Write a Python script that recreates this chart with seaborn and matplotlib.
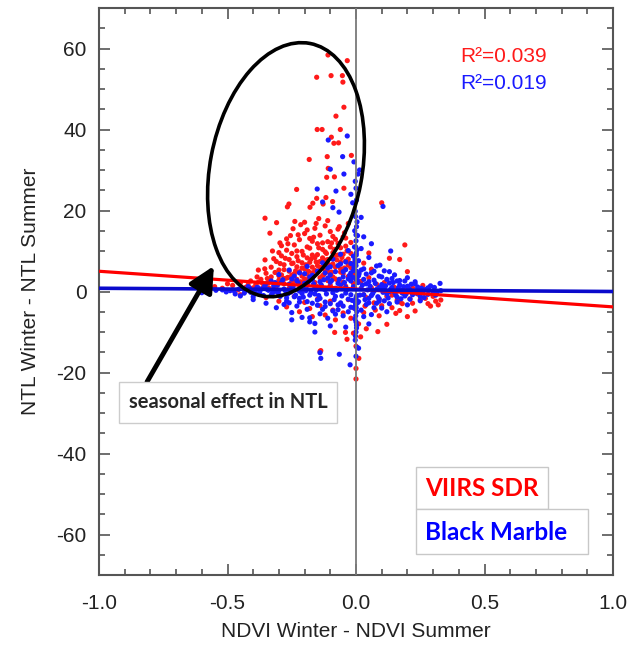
import matplotlib
matplotlib.use("Agg")
import matplotlib.pyplot as plt
import seaborn as sns
import pandas as pd
from matplotlib.patches import Ellipse, Rectangle
from matplotlib.ticker import MultipleLocator

# ---------------- data ----------------
red_high = [(-0.109, 58.4), (-0.034, 57.0), (-0.153, 52.9), (-0.097, 53.3), (-0.053, 53.3),
            (-0.051, 51.7), (-0.047, 45.5), (-0.078, 43.3), (-0.151, 40.0), (-0.132, 40.0),
            (-0.061, 40.0), (-0.096, 38.1), (-0.086, 36.6), (-0.068, 36.7), (-0.018, 33.6),
            (-0.182, 32.6), (-0.112, 33.3), (-0.108, 30.4), (-0.084, 28.3), (-0.114, 28.2),
            (-0.047, 25.5), (-0.231, 25.2), (-0.153, 23.0), (-0.117, 23.2), (-0.168, 21.8),
            (-0.091, 22.2), (-0.261, 21.6), (-0.267, 20.9), (-0.179, 20.8), (-0.128, 21.6),
            (-0.354, 18.1), (-0.309, 17.0), (-0.238, 17.3), (-0.200, 17.1), (-0.155, 16.8),
            (-0.335, 14.4), (-0.296, 12.0), (-0.380, 5.3), (-0.354, 7.8), (0.100, 21.9)]

red_core = [(-0.62, 1.8), (-0.55, 1.2), (-0.52, 0.8), (-0.48, 1.5), (-0.45, 2.1), (-0.43, 1.0),
            (-0.41, 2.6), (-0.39, 1.7), (-0.37, 3.0), (-0.36, 1.1), (-0.34, 2.2), (-0.33, 3.6),
            (-0.31, 1.4), (-0.30, 2.8), (-0.29, 4.1), (-0.28, 1.9), (-0.27, 3.3), (-0.26, 5.0),
            (-0.25, 2.4), (-0.24, 4.4), (-0.23, 6.1), (-0.22, 1.6), (-0.21, 3.8), (-0.20, 5.6),
            (-0.19, 2.9), (-0.18, 7.2), (-0.17, 4.6), (-0.16, 2.2), (-0.15, 6.4), (-0.14, 3.4),
            (-0.13, 8.3), (-0.12, 5.2), (-0.11, 2.7), (-0.10, 4.0), (-0.09, 6.8), (-0.08, 3.1),
            (-0.07, 9.0), (-0.06, 4.8), (-0.05, 2.3), (-0.04, 7.5), (-0.03, 3.7), (-0.02, 5.9),
            (-0.01, 2.0),
            (-0.33, 6.0), (-0.31, 7.4), (-0.30, 5.3), (-0.29, 8.8), (-0.28, 6.6), (-0.27, 10.2),
            (-0.26, 7.9), (-0.25, 9.4), (-0.24, 11.5), (-0.23, 8.6), (-0.22, 12.8), (-0.21, 9.9),
            (-0.20, 14.3), (-0.19, 11.0), (-0.18, 13.1), (-0.17, 9.0), (-0.16, 15.6), (-0.15, 11.8),
            (-0.14, 13.9), (-0.13, 10.4), (-0.12, 16.2), (-0.11, 12.3), (-0.10, 14.8), (-0.09, 9.6),
            (-0.08, 12.9), (-0.07, 15.4), (-0.06, 10.8), (-0.05, 13.5), (-0.04, 11.2), (-0.03, 16.8),
            (-0.02, 9.4),
            (-0.40, 0.9), (-0.38, 2.3), (-0.35, 4.5), (-0.32, 1.0), (-0.30, 3.9), (-0.28, 5.4),
            (-0.26, 0.8), (-0.25, 6.9), (-0.23, 3.0), (-0.22, 4.9), (-0.21, 7.1), (-0.20, 1.8),
            (-0.19, 4.3), (-0.18, 3.3), (-0.17, 6.0), (-0.16, 8.4), (-0.15, 1.2), (-0.14, 5.5),
            (-0.13, 3.9), (-0.12, 7.7), (-0.11, 4.9), (-0.10, 1.5), (-0.09, 3.6), (-0.08, 6.0),
            (-0.07, 2.6), (-0.06, 7.3), (-0.05, 4.4), (-0.04, 1.3), (-0.03, 6.5), (-0.02, 3.0),
            (0.00, 4.2),
            (-0.32, 8.1), (-0.29, 11.3), (-0.27, 13.0), (-0.25, 4.0), (-0.23, 10.0), (-0.21, 5.8),
            (-0.19, 8.3), (-0.18, 10.7), (-0.17, 12.4), (-0.16, 5.2), (-0.15, 9.1), (-0.14, 7.4),
            (-0.13, 12.0), (-0.12, 9.8), (-0.11, 7.9), (-0.10, 11.0), (-0.09, 13.6), (-0.08, 8.9),
            (-0.07, 11.9), (-0.06, 5.6), (-0.05, 9.2), (-0.04, 13.2), (-0.03, 8.0), (-0.02, 12.1),
            (-0.01, 6.9), (-0.20, 3.1), (-0.24, 2.5), (-0.28, 3.2), (-0.34, 0.9), (-0.42, 1.6),
            (-0.46, 0.4), (-0.50, 1.9), (-0.57, 0.6), (-0.215, 16.5), (-0.145, 18.0), (-0.19, 15.2),
            (-0.255, 13.8), (-0.30, 9.6), (-0.11, 17.5), (-0.065, 16.0), (0.03, 7.0), (0.05, 9.5),
            (-0.315, 4.7), (-0.305, 1.9), (-0.295, 6.9), (-0.285, 2.6), (-0.275, 8.2), (-0.265, 3.5),
            (-0.245, 7.0), (-0.235, 5.1), (-0.225, 7.6), (-0.215, 2.4), (-0.205, 9.0), (-0.195, 6.6),
            (-0.185, 5.0), (-0.175, 8.0), (-0.165, 3.8), (-0.155, 7.3), (-0.145, 10.8), (-0.135, 6.0),
            (-0.125, 4.2), (-0.115, 9.4), (-0.105, 6.6), (-0.095, 4.8), (-0.085, 10.4), (-0.075, 7.8),
            (-0.055, 8.4), (-0.045, 5.8), (-0.035, 10.0), (-0.025, 7.0), (-0.015, 4.4), (-0.265, 11.8),
            (-0.225, 14.0), (-0.165, 13.4), (-0.095, 12.0), (-0.045, 14.5), (-0.345, 3.2),
            (-0.365, 2.1), (-0.385, 3.6), (-0.355, 5.6), (-0.325, 10.0), (-0.245, 15.5)]

red_right = [(0.02, 2.5), (0.04, -1.5), (0.05, 3.4), (0.07, -2.8), (0.08, 1.8), (0.10, -3.5),
             (0.11, 2.2), (0.12, -1.2), (0.13, 8.2), (0.14, -4.0), (0.15, 1.0), (0.16, -2.2),
             (0.17, 7.9), (0.18, -3.0), (0.19, 11.5), (0.20, 4.9), (0.21, -1.8), (0.22, 0.9),
             (0.23, -4.8), (0.25, -2.0), (0.26, 1.5), (0.28, -3.0), (0.30, -1.2), (0.32, -3.3),
             (0.33, -2.1), (0.06, 5.5), (0.09, -6.0), (0.12, -8.1), (0.085, -9.9), (0.17, -4.7),
             (0.03, -0.8), (0.06, 0.9), (0.09, -1.9), (0.11, 0.4), (0.14, -0.9), (0.17, -2.6),
             (0.19, 0.6), (0.22, -2.9), (0.24, -0.6), (0.27, -1.7), (0.29, -3.6), (0.31, -2.4),
             (0.035, -3.6), (0.075, -4.6), (0.155, -5.4), (0.20, -6.2)]

red_low = [(-0.45, -0.8), (-0.35, -1.5), (-0.30, -2.4), (-0.27, -3.8), (-0.24, -1.2), (-0.22, -5.0),
           (-0.20, -2.7), (-0.18, -4.2), (-0.17, -6.2), (-0.15, -1.9), (-0.14, -3.5), (-0.12, -5.8),
           (-0.10, -2.4), (-0.09, -4.6), (-0.08, -7.0), (-0.06, -3.1), (-0.05, -5.3), (-0.03, -2.0),
           (-0.02, -6.6), (-0.01, -4.0), (0.01, -8.0), (0.03, -5.2), (-0.137, -14.6), (-0.14, -14.8),
           (-0.083, -10.1), (-0.041, -10.1), (-0.01, -10.3), (-0.035, -11.8), (0.018, -11.2),
           (0.011, -16.5), (0.0, -19.0), (0.0, -21.6), (0.0, -13.5), (0.04, -9.2)]

blue_band = [(-0.60, -0.3), (-0.52, 0.4), (-0.47, -0.6), (-0.44, 0.7), (-0.41, -0.2), (-0.38, 0.9),
             (-0.36, -1.0), (-0.34, 0.3), (-0.32, 1.4), (-0.30, -0.7), (-0.28, 0.6), (-0.26, 1.8),
             (-0.24, -1.3), (-0.22, 0.1), (-0.20, 2.0), (-0.18, -0.9), (-0.16, 1.1), (-0.14, -1.7),
             (-0.12, 0.4), (-0.10, 2.3), (-0.08, -1.2), (-0.06, 1.6), (-0.04, -0.4), (-0.02, 2.6),
             (0.00, -1.5), (0.02, 0.8), (0.04, 1.9), (0.06, -1.0), (0.08, 0.5), (0.10, 1.7),
             (0.12, -0.6), (0.14, 1.0), (0.16, -1.4), (0.18, 0.3), (0.20, 1.3), (0.22, -0.8),
             (0.24, 0.6), (0.26, -0.3), (0.28, 0.9), (0.30, -0.5), (0.33, 0.2),
             (-0.49, 0.2), (-0.45, -1.1), (-0.42, 1.2), (-0.39, -0.4), (-0.37, 0.5), (-0.35, 1.9),
             (-0.33, -0.9), (-0.31, 0.0), (-0.29, 2.2), (-0.27, -1.6), (-0.25, 0.9), (-0.23, 2.7),
             (-0.21, -0.5), (-0.19, 1.5), (-0.17, 3.0), (-0.15, -2.1), (-0.13, 0.7), (-0.11, 3.3),
             (-0.09, -0.3), (-0.07, 2.0), (-0.05, 3.6), (-0.03, -1.9), (-0.01, 1.2), (0.01, 3.9),
             (0.03, -0.8), (0.05, 2.4), (0.07, 0.1), (0.09, -1.8), (0.11, 0.9), (0.13, 2.1),
             (0.15, -0.2), (0.17, 1.6), (0.19, -1.1), (0.21, 0.4), (0.23, 1.9), (0.25, -1.2),
             (0.27, 0.5), (0.29, 1.4), (0.31, -0.9),
             (-0.43, 0.1), (-0.40, -1.3), (-0.36, 0.8), (-0.33, 2.6), (-0.30, 0.3), (-0.27, -2.4),
             (-0.25, 3.1), (-0.22, -1.7), (-0.20, 0.5), (-0.18, 3.6), (-0.16, -0.6), (-0.14, 2.4),
             (-0.12, -2.6), (-0.10, 4.1), (-0.08, 0.8), (-0.06, -2.8), (-0.05, 4.9), (-0.04, 1.0),
             (-0.03, 3.1), (-0.02, -0.8), (-0.01, 5.2), (0.01, -2.5), (0.03, 3.0), (0.05, -1.7),
             (0.07, 2.8), (0.09, 1.0), (0.11, -2.3), (0.13, 0.0), (0.16, 2.6), (0.18, -0.4),
             (0.21, -1.9), (0.24, 1.1), (0.28, -0.7),
             (-0.255, -0.2), (-0.245, 1.2), (-0.235, -0.9), (-0.225, 2.1), (-0.215, 0.6),
             (-0.205, -1.4), (-0.195, 0.2), (-0.185, 2.4), (-0.175, -0.3), (-0.165, 1.9),
             (-0.155, 0.4), (-0.145, -1.0), (-0.135, 1.6), (-0.125, 2.9), (-0.115, -0.6),
             (-0.105, 0.9), (-0.095, 2.7), (-0.085, -2.0), (-0.075, 0.3), (-0.065, 3.0),
             (-0.055, -1.1), (-0.045, 2.2), (-0.035, 0.5), (-0.025, 4.0), (-0.015, -2.2),
             (-0.005, 0.8), (0.005, 2.9), (0.015, -0.9), (0.025, 1.6), (0.035, -2.0), (0.045, 0.4),
             (0.055, 1.3), (0.065, -0.5), (0.075, 2.0), (0.085, -1.3), (0.095, 0.7), (0.105, -0.2),
             (0.115, 1.4), (0.125, -1.6), (0.135, 0.6), (0.145, 2.2), (0.155, -0.9), (0.165, 0.9),
             (0.175, -1.8), (0.185, 1.2), (0.195, -0.6), (0.205, 0.7), (0.215, 1.8), (0.235, -0.4),
             (0.255, 0.8), (0.265, -1.5), (0.285, 0.3), (0.305, 1.0), (0.315, -0.2),
             (-0.305, 1.6), (-0.295, -1.2), (-0.285, 2.9), (-0.275, 0.2), (-0.265, -0.6),
             (-0.345, 0.5), (-0.355, 1.4), (-0.325, -0.4), (-0.315, 2.2), (-0.375, -0.3),
             (-0.385, 1.0), (-0.395, 0.3), (-0.415, 0.9), (-0.435, -0.4), (-0.455, 0.6),
             (-0.475, 0.2), (-0.505, -0.1), (-0.545, 0.3)]

blue_upper = [(-0.30, 4.2), (-0.26, 5.3), (-0.22, 4.6), (-0.19, 6.2), (-0.15, 5.0), (-0.13, 7.1),
              (-0.11, 5.8), (-0.09, 8.0), (-0.07, 6.4), (-0.06, 9.2), (-0.04, 7.3), (-0.03, 10.1),
              (-0.02, 6.9), (-0.01, 8.7), (0.01, 7.6), (0.02, 10.6), (0.03, 5.6), (0.05, 8.4),
              (0.06, 4.6), (0.08, 6.3), (0.09, 3.8), (0.11, 5.1), (0.13, 4.9), (0.14, 3.2),
              (0.135, 10.0), (0.093, 6.5), (0.17, 2.7), (0.20, 3.4), (0.23, 2.4), (0.327, 2.0),
              (0.105, 21.0), (0.03, 13.5), (0.06, 11.8),
              (-0.24, 3.8), (-0.20, 4.4), (-0.17, 4.0), (-0.12, 4.6), (-0.10, 6.1), (-0.08, 4.9),
              (-0.06, 6.8), (-0.04, 5.4), (-0.02, 4.6), (0.00, 6.4), (0.02, 5.3), (0.04, 4.3),
              (0.07, 5.0), (0.10, 3.6), (0.12, 3.0), (0.15, 4.1), (0.19, 2.6),
              (-0.108, 37.4), (-0.034, 38.4), (-0.052, 33.3), (-0.10, 30.2), (-0.047, 29.0),
              (0.014, 30.0), (-0.003, 27.2), (-0.151, 25.3), (-0.078, 24.8), (-0.13, 22.1),
              (-0.09, 20.7), (-0.066, 19.6), (-0.013, 21.9), (0.02, 18.3), (-0.02, 24.0),
              (0.008, 29.0), (-0.008, 32.0)]

blue_spike = [(0.000, 12.5), (-0.005, 15.0), (0.004, 17.2), (-0.003, 19.8), (0.002, 22.6),
              (0.0, 25.5), (-0.006, 11.0), (0.006, 13.8), (0.001, 9.5), (-0.002, -3.5),
              (0.003, -5.0), (-0.004, -6.8), (0.002, -8.3), (0.0, -10.0), (-0.003, -12.0),
              (0.004, -13.8), (0.0, -16.0), (-0.005, -4.2), (0.006, -2.8), (0.01, -14.0),
              (-0.023, -18.1), (-0.065, -15.5), (-0.137, -16.5), (-0.14, -15.1), (-0.012, 3.5),
              (0.012, 4.4), (-0.008, 6.0), (0.008, 2.2),
              (0.0, 3.0), (0.002, 5.0), (-0.002, 7.0), (0.001, 9.0), (-0.001, 11.0), (0.0, 14.0),
              (0.002, 16.0), (-0.002, 18.5), (0.0, -2.0), (0.001, -4.0), (-0.001, -6.0),
              (0.0, -7.5), (0.002, -9.0), (-0.002, -11.0), (-0.004, 7.8), (0.004, 10.3),
              (0.003, -1.0), (-0.003, -2.7)]

blue_low = [(-0.40, -2.0), (-0.35, -2.9), (-0.31, -4.0), (-0.28, -3.2), (-0.25, -5.2), (-0.23, -3.6),
            (-0.21, -6.4), (-0.19, -4.4), (-0.17, -2.9), (-0.16, -7.9), (-0.14, -5.5), (-0.12, -3.7),
            (-0.11, -6.6), (-0.09, -4.8), (-0.07, -3.3), (-0.07, -4.5), (-0.05, -6.0), (-0.04, -8.8),
            (-0.02, -3.9), (0.02, -4.6), (0.04, -3.2), (0.06, -5.7), (0.08, -2.9), (0.10, -4.1),
            (0.13, -3.0), (0.16, -2.6), (0.20, -3.3), (0.25, -2.3), (-0.18, -6.5), (-0.18, -7.5),
            (-0.22, -2.6), (-0.15, -3.4), (-0.10, -3.0), (-0.05, -3.6), (0.00, -3.1), (0.05, -2.8),
            (0.09, -2.4), (-0.26, -2.8), (-0.19, -2.5), (-0.13, -4.4), (-0.08, -5.6), (-0.03, -5.0),
            (0.03, -6.2), (0.07, -4.0), (0.12, -5.0), (-0.16, -10.0), (-0.10, -8.5), (0.05, -8.0),
            (-0.25, -7.0)]

series_names = ["VIIRS SDR", "Black Marble"]
series_colors = ["#ff1a1a", "#1a1aff"]
fit_x = [-1.0, 1.0]
red_fit_y = [5.0, -3.8]
blue_fit_y = [0.8, 0.0]
r2_texts = ["R\u00b2=0.039", "R\u00b2=0.019"]
x_ticks = [-1.0, -0.5, 0.0, 0.5, 1.0]
y_ticks = [-60, -40, -20, 0, 20, 40, 60]

# ---------------- build frames ----------------
red_all = red_high + red_core + red_right + red_low
blue_all = blue_band + blue_upper + blue_spike + blue_low
df = pd.DataFrame(
    [(x, y, series_names[0]) for x, y in red_all] +
    [(x, y, series_names[1]) for x, y in blue_all],
    columns=["x", "y", "series"])
fit_df = pd.DataFrame({"x": fit_x * 2, "y": red_fit_y + blue_fit_y,
                       "series": [series_names[0]] * 2 + [series_names[1]] * 2})

# ---------------- style ----------------
sns.set_style("ticks")
plt.rcParams["font.family"] = ["Liberation Sans", "DejaVu Sans"]
plt.rcParams["axes.unicode_minus"] = False

W, H = 641, 646
fig = plt.figure(figsize=(W / 100, H / 100), dpi=100)
ax = fig.add_axes([99 / W, 71 / H, 514 / W, 567 / H])

pal = dict(zip(series_names, series_colors))
sns.scatterplot(data=df, x="x", y="y", hue="series", palette=pal, s=14,
                linewidth=0, legend=False, ax=ax, zorder=3)
ax.axvline(0, color="#7a7a7a", lw=1.3, zorder=4)
sns.lineplot(data=fit_df[fit_df.series == series_names[0]], x="x", y="y",
             color="#ff0000", lw=2.3, ax=ax, zorder=5, legend=False)
sns.lineplot(data=fit_df[fit_df.series == series_names[1]], x="x", y="y",
             color="#0a0acc", lw=2.6, ax=ax, zorder=5, legend=False)

ax.set_xlim(-1, 1)
ax.set_ylim(-70, 70)
ax.set_xticks(x_ticks)
ax.set_yticks(y_ticks)
ax.set_xticklabels([f"{v:.1f}" for v in x_ticks])
ax.set_yticklabels([f"{v:d}" for v in y_ticks])
ax.xaxis.set_minor_locator(MultipleLocator(0.1))
ax.yaxis.set_minor_locator(MultipleLocator(5))
ax.tick_params(which="both", direction="in", top=True, right=True, color="#555555", width=1.2)
ax.tick_params(which="major", length=8)
ax.tick_params(which="minor", length=4)
ax.tick_params(axis="x", which="major", pad=14, labelsize=15, labelcolor="#222222")
ax.tick_params(axis="y", which="major", pad=9, labelsize=15, labelcolor="#222222")
for sp in ax.spines.values():
    sp.set_color("#555555")
    sp.set_linewidth(1.5)
ax.set_xlabel("NDVI Winter - NDVI Summer", fontsize=15, color="#222222", labelpad=6)
ax.set_ylabel("NTL Winter - NTL Summer", fontsize=15, color="#222222", labelpad=12)

# R^2 annotations
ax.text(0.405, 58.0, r2_texts[0], color="#ff1a1a", fontsize=15, va="center", ha="left", zorder=6)
ax.text(0.405, 51.3, r2_texts[1], color="#1a1aff", fontsize=15, va="center", ha="left", zorder=6)

# ellipse (drawn in pixel space of the figure)
inch = fig.dpi_scale_trans
ell = Ellipse((2.86, (H - 169.7) / 100), 1.52, 2.57, angle=-10.75, transform=inch,
              fill=False, ec="black", lw=2.6, zorder=7)
ax.add_patch(ell)

# arrow
ax.annotate("", xy=(-0.553, 6.3), xytext=(-0.813, -22.3),
            arrowprops=dict(arrowstyle="-|>,head_length=1.1,head_width=0.55", lw=3.5,
                            color="black", mutation_scale=14, shrinkA=0, shrinkB=0),
            zorder=7)

# annotation box
ax.text(-0.498, -27.4, "seasonal effect in NTL", fontsize=14.5, fontweight="bold",
        family=["Lato", "DejaVu Sans"], ha="center", va="center", zorder=8,
        bbox=dict(boxstyle="square,pad=0.5", fc="white", ec="#cccccc", lw=1))

# legend boxes
ax.add_patch(Rectangle((4.16, (H - 509) / 100), 1.32, 0.42, transform=inch,
                       fc="white", ec="#c8c8c8", lw=1, zorder=8))
ax.add_patch(Rectangle((4.16, (H - 554) / 100), 1.72, 0.45, transform=inch,
                       fc="white", ec="#c8c8c8", lw=1, zorder=8))
ax.text(4.25, (H - 489) / 100, series_names[0], transform=inch, color="#ff0000",
        fontsize=17.5, fontweight="bold", family=["Lato", "DejaVu Sans"],
        ha="left", va="center", zorder=9)
ax.text(4.25, (H - 532) / 100, series_names[1], transform=inch, color="#0000ff",
        fontsize=17.5, fontweight="bold", family=["Lato", "DejaVu Sans"],
        ha="left", va="center", zorder=9)

fig.savefig("out.png", dpi=100)
